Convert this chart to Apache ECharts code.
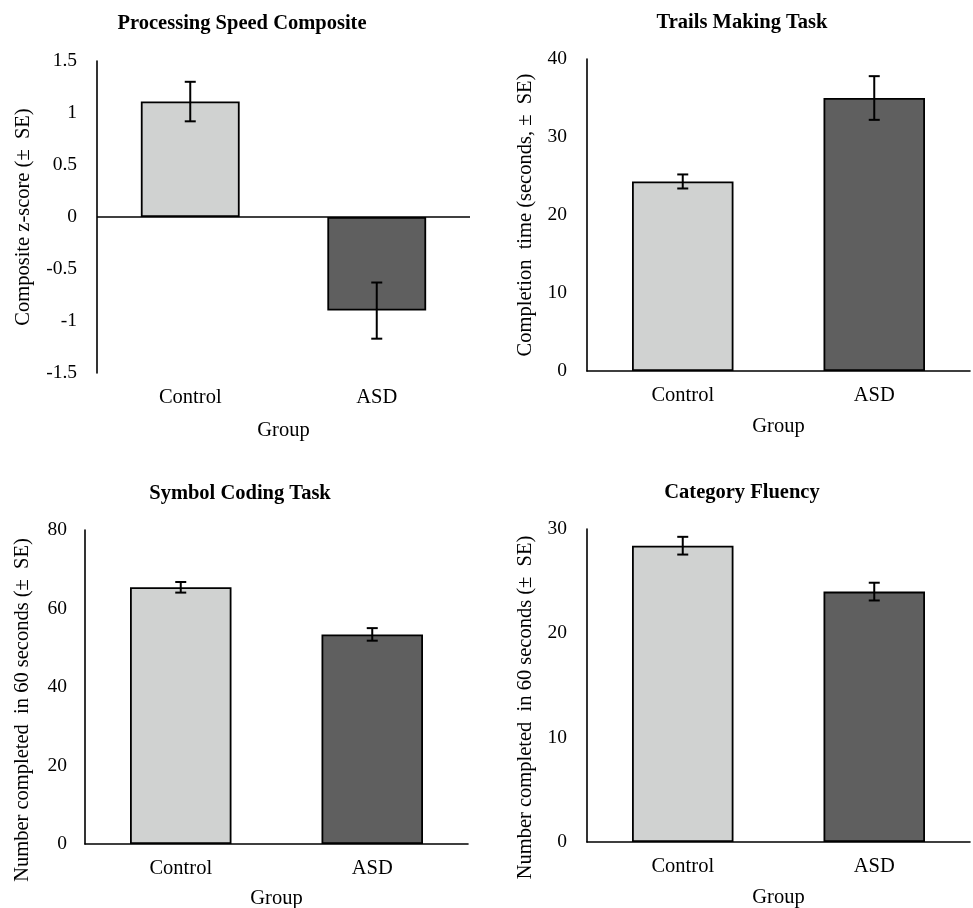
<!DOCTYPE html>
<html>
<head>
<meta charset="utf-8">
<script src="https://cdn.jsdelivr.net/npm/echarts@6/dist/echarts.min.js"></script>
<style>html,body{margin:0;padding:0;background:#fff}#c{width:973px;height:908px}</style>
</head>
<body>
<div id="c"></div>
<script>
const categories = ['Control', 'ASD'];
const chartTitles = ['Processing Speed Composite', 'Trails Making Task', 'Symbol Coding Task', 'Category Fluency'];
const yNames = ['Composite z-score (\u00B1  SE)', 'Completion  time (seconds, \u00B1  SE)', 'Number completed  in 60 seconds (\u00B1  SE)', 'Number completed  in 60 seconds (\u00B1  SE)'];
const xName = 'Group';

const compositeMeans = [1.11, -0.90];
const compositeSE = [0.19, 0.27];
const trailsMeans = [24.3, 35.0];
const trailsSE = [0.9, 2.8];
const symbolMeans = [65.4, 53.4];
const symbolSE = [1.35, 1.6];
const fluencyMeans = [28.4, 24.0];
const fluencySE = [0.85, 0.85];

const yMins = [-1.5, 0, 0, 0];
const yMaxs = [1.5, 40, 80, 30];
const yIntervals = [0.5, 10, 20, 10];

const barColors = ['#d0d2d1', '#5f5f5f'];
const FONT = 'Liberation Serif, Times New Roman, serif';

const meansList = [compositeMeans, trailsMeans, symbolMeans, fluencyMeans];
const seList = [compositeSE, trailsSE, symbolSE, fluencySE];

const grids = [
  {left: 97, top: 61, width: 373, height: 312, outerBoundsMode: 'none', containLabel: false},
  {left: 587, top: 59, width: 383, height: 312, outerBoundsMode: 'none', containLabel: false},
  {left: 85, top: 530, width: 383, height: 314, outerBoundsMode: 'none', containLabel: false},
  {left: 587, top: 529, width: 383, height: 313, outerBoundsMode: 'none', containLabel: false}
];
const titlePos = [[242, 13], [742, 12], [240, 483], [742, 482]];
const yNameGaps = [63, 51, 52, 51];
const yNamePad = [[0,0,0,0],[0,0,0,0],[0,46,0,0],[0,44,0,0]];
const yLabelMargins = [20, 20, 18, 20];
const xNameGaps = [47, 45, 44, 45];

function renderErr(params, api) {
  const x = api.value(0), y = api.value(1), e = api.value(2);
  const top = api.coord([x, y + e]);
  const bot = api.coord([x, y - e]);
  const hw = 5.5;
  const st = {stroke: '#000', lineWidth: 2};
  return {type: 'group', children: [
    {type: 'line', shape: {x1: top[0], y1: top[1], x2: bot[0], y2: bot[1]}, style: st},
    {type: 'line', shape: {x1: top[0] - hw, y1: top[1], x2: top[0] + hw, y2: top[1]}, style: st},
    {type: 'line', shape: {x1: bot[0] - hw, y1: bot[1], x2: bot[0] + hw, y2: bot[1]}, style: st}
  ]};
}

const option = {
  animation: false,
  backgroundColor: '#fff',
  title: chartTitles.map((t, i) => ({
    text: t, left: titlePos[i][0], top: titlePos[i][1], textAlign: 'center', padding: 0,
    textStyle: {fontFamily: FONT, fontWeight: 'bold', fontSize: 20.5, color: '#000'}
  })),
  grid: grids,
  xAxis: grids.map((g, i) => ({
    type: 'category', gridIndex: i, data: categories,
    name: xName, nameLocation: 'middle', nameGap: xNameGaps[i],
    nameTextStyle: {fontFamily: FONT, fontSize: 20.5, color: '#000'},
    axisLine: i === 0 ? {show: false, onZero: false} : {show: true, onZero: false, lineStyle: {color: '#000', width: 1.6}},
    axisTick: {show: false},
    axisLabel: {fontFamily: FONT, fontSize: 20.5, color: '#000', margin: 14}
  })),
  yAxis: grids.map((g, i) => ({
    type: 'value', gridIndex: i, min: yMins[i], max: yMaxs[i], interval: yIntervals[i],
    name: yNames[i], nameLocation: 'middle', nameGap: yNameGaps[i],
    nameTextStyle: {fontFamily: FONT, fontSize: 20.5, color: '#000', padding: yNamePad[i]},
    axisLine: {show: true, lineStyle: {color: '#000', width: 1.6}},
    axisTick: {show: false},
    splitLine: {show: false},
    axisLabel: {fontFamily: FONT, fontSize: 19.5, color: '#000', margin: yLabelMargins[i]}
  })),
  series: []
};

meansList.forEach((means, i) => {
  const bar = {
    type: 'bar', xAxisIndex: i, yAxisIndex: i, barWidth: '53%',
    data: means.map((v, k) => ({value: v, itemStyle: {color: barColors[k], borderColor: '#000', borderWidth: 1.8}})),
    z: 2
  };
  if (i === 0) {
    bar.markLine = {
      silent: true, symbol: ['none', 'none'], label: {show: false},
      lineStyle: {color: '#000', type: 'solid', width: 1.6},
      data: [{yAxis: 0}]
    };
  }
  option.series.push(bar);
  option.series.push({
    type: 'custom', xAxisIndex: i, yAxisIndex: i, renderItem: renderErr, z: 5,
    data: means.map((v, k) => [k, v, seList[i][k]])
  });
});

const chart = echarts.init(document.getElementById('c'), null, {renderer: 'canvas'});
chart.setOption(option);
</script>
</body>
</html>
